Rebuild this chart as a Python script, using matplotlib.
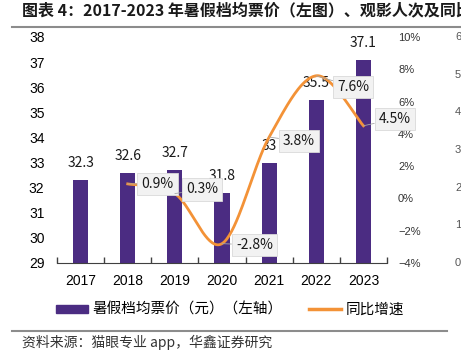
import numpy as np
import matplotlib
matplotlib.use("Agg")
import matplotlib.pyplot as plt
from matplotlib.patches import Patch
from matplotlib.lines import Line2D

# data
years = ["2017", "2018", "2019", "2020", "2021", "2022", "2023"]
ticket_price = [32.3, 32.6, 32.7, 31.8, 33, 35.5, 37.1]
price_labels = ["32.3", "32.6", "32.7", "31.8", "33", "35.5", "37.1"]
growth_years = ["2018", "2019", "2020", "2021", "2022", "2023"]
growth = [0.9, 0.3, -2.8, 3.8, 7.6, 4.5]
growth_labels = ["0.9%", "0.3%", "-2.8%", "3.8%", "7.6%", "4.5%"]
left_ticks = [29, 30, 31, 32, 33, 34, 35, 36, 37, 38]
right_ticks = [-4, -2, 0, 2, 4, 6, 8, 10]
# axis of the neighbouring chart, cut off at the right edge
side_ticks = ["0", "1", "2", "3", "4", "5", "6"]

title = "图表 4：2017-2023 年暑假档均票价（左图）、观影人次及同比"
source = "资料来源：猫眼专业 app，华鑫证券研究"

BAR = "#4b2c82"
ORANGE = "#f39237"
CJK = ["Noto Sans CJK SC", "DejaVu Sans"]
LAT = ["Liberation Sans", "DejaVu Sans"]


# excel style smoothed line (bezier with 1/6 control points)
def smooth(x, y, n=40):
    P = np.column_stack([x, y]).astype(float)
    P = np.vstack([P[:1], P, P[-1:]])
    t = np.linspace(0, 1, n)[:, None]
    out = []
    for i in range(len(x) - 1):
        p0, p3 = P[i + 1], P[i + 2]
        c1 = p0 + (P[i + 2] - P[i]) / 6
        c2 = p3 - (P[i + 3] - P[i + 1]) / 6
        seg = (1 - t) ** 3 * p0 + 3 * (1 - t) ** 2 * t * c1 + 3 * (1 - t) * t ** 2 * c2 + t ** 3 * p3
        out.append(seg if i == 0 else seg[1:])
    out = np.vstack(out)
    return out[:, 0], out[:, 1]


fig = plt.figure(figsize=(4.61, 3.53), dpi=100)
ax = fig.add_axes([57 / 461, 1 - 263 / 353, 330 / 461, 226 / 353])
ax2 = ax.twinx()

x = np.arange(len(years))
ax.bar(x, ticket_price, width=0.32, color=BAR, zorder=2)
ax.set_ylim(29, 38)
ax.set_xlim(-0.5, len(years) - 0.5)
ax.set_yticks(left_ticks)
ax.set_xticks(x)
ax.set_xticklabels(years)
ax.set_xticks(np.arange(len(years) + 1) - 0.5, minor=True)
ax.tick_params(axis="x", which="major", length=0, pad=8, labelsize=10)
ax.tick_params(axis="x", which="minor", direction="in", length=4, width=1, color="#404040")
ax.tick_params(axis="y", length=0, pad=9, labelsize=10)
for lab in ax.get_xticklabels() + ax.get_yticklabels():
    lab.set_family(LAT)
for s in ["left", "right", "top"]:
    ax.spines[s].set_visible(False)
    ax2.spines[s].set_visible(False)
ax.spines["bottom"].set_color("#404040")
ax2.spines["bottom"].set_visible(False)

for xi, v, lab in zip(x, ticket_price, price_labels):
    ax.annotate(lab, (xi, v), xytext=(0, 7), textcoords="offset points",
                ha="center", va="bottom", fontsize=10, family=CJK,
                fontweight="medium", color="#1a1a1a")

gx = np.array([years.index(g) for g in growth_years])
sx, sy = smooth(gx, growth)
ax2.plot(sx, sy, color=ORANGE, lw=2, zorder=3)
ax2.set_ylim(-4, 10)
ax2.set_yticks(right_ticks)
ax2.set_yticklabels([f"{t}%".replace("-", "\u2212") for t in right_ticks])
ax2.tick_params(axis="y", length=0, pad=8, labelsize=8, labelcolor="#333333")
for lab in ax2.get_yticklabels():
    lab.set_family(LAT)

# label offsets in points (dx, dy)
offsets = [(10, 0), (8, 3), (10, -1), (10, -3), (15, -8), (11, 5)]
box = dict(boxstyle="square,pad=0.3", fc="#f2f2f2", ec="#d9d9d9", lw=0.6)
for xi, v, lab, (dx, dy) in zip(gx, growth, growth_labels, offsets):
    ax2.annotate(lab, (xi, v), xytext=(dx, dy), textcoords="offset points",
                 ha="left", va="center", fontsize=10, family=CJK,
                 fontweight="medium", color="#1a1a1a", bbox=box, zorder=5,
                 arrowprops=dict(arrowstyle="-", color="#a6a6a6", lw=0.6,
                                 shrinkA=0, shrinkB=0))

# neighbour chart axis labels (cut off)
for i, s in enumerate(side_ticks):
    fig.text(455 / 461, (1 - 263 / 353) + i * (226 / 353) / 6, s,
             fontsize=8, color="#555555", va="center", ha="left", family=LAT)

# title, rules, legend, source
fig.text(22 / 461, 1 - 10 / 353, title, fontsize=11.5, fontweight="bold",
         family=CJK, va="center", ha="left", color="#1a1a1a")
fig.add_artist(Line2D([12 / 461, 1], [1 - 27 / 353] * 2, color="#8c8c8c", lw=1.5))
fig.add_artist(Line2D([12 / 461, 447 / 461], [1 - 331 / 353] * 2, color="#8c8c8c", lw=1.5))
fig.text(22 / 461, 1 - 342 / 353, source, fontsize=10, family=CJK,
         va="center", ha="left", color="#333333")

handles = [Patch(color=BAR), Line2D([0], [0], color=ORANGE, lw=2.5)]
labels = ["暑假档均票价（元）（左轴）", "同比增速"]
fig.legend(handles, labels, loc="center", bbox_to_anchor=(230 / 461, 1 - 310 / 353),
           ncol=2, frameon=False, prop={"family": CJK, "size": 10.5},
           handlelength=2.2, handleheight=0.5, columnspacing=1.8, handletextpad=0.3)

fig.savefig("out.png", dpi=100)
